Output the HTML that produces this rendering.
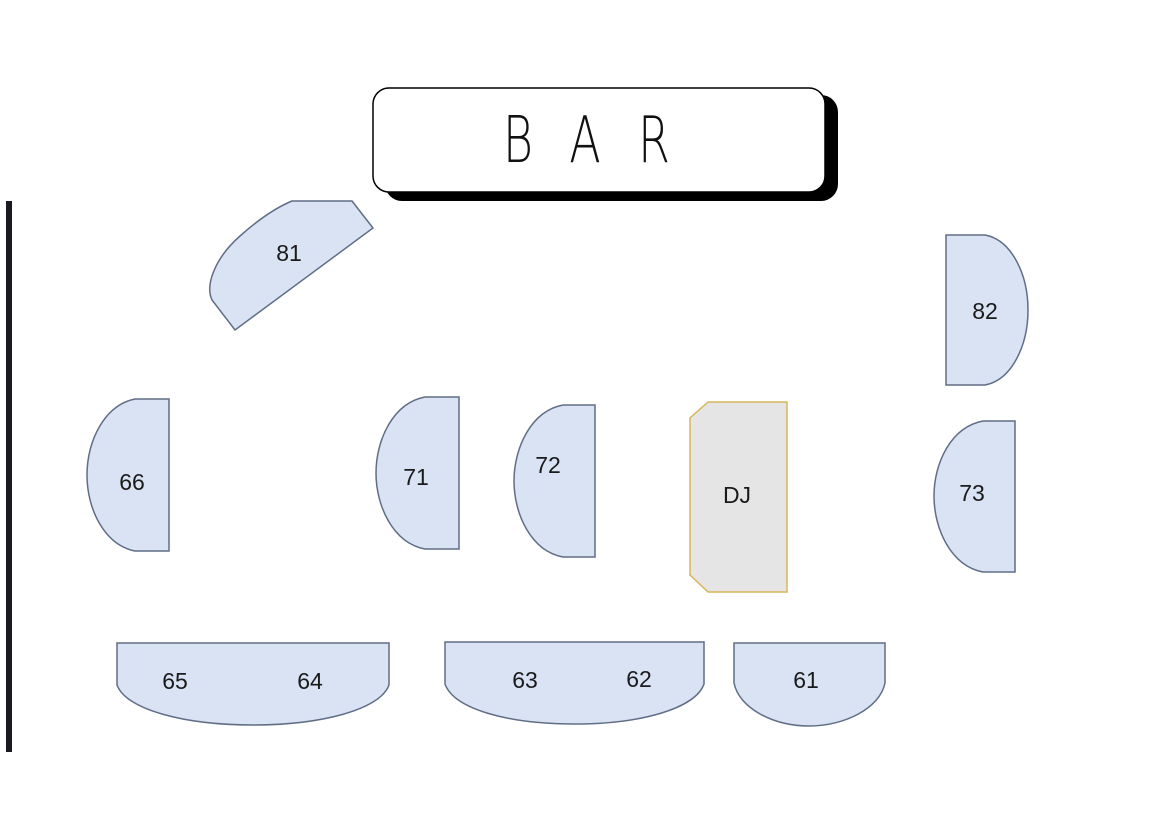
<!DOCTYPE html>
<html><head><meta charset="utf-8"><style>
html,body{margin:0;padding:0;background:#fff;}
svg{display:block;}
</style></head><body>
<svg width="1170" height="836" viewBox="0 0 1170 836" xmlns="http://www.w3.org/2000/svg">
<rect width="1170" height="836" fill="#fff"/>
<rect x="6" y="201" width="6" height="551" fill="#1a1a22"/>
<!-- BAR -->
<rect x="385" y="95" width="453" height="106" rx="17" fill="#000"/>
<rect x="373" y="88" width="452" height="104" rx="16" fill="#fff" stroke="#000" stroke-width="1.5"/>
<g font-family="'DejaVu Sans ExtraLight','DejaVu Sans','Liberation Sans',sans-serif" font-size="64" fill="#111" font-weight="200">
<text x="518" y="162" text-anchor="middle" transform="translate(518 0) scale(0.72 1) translate(-518 0)">B</text>
<text x="585" y="162" text-anchor="middle" transform="translate(585 0) scale(0.72 1) translate(-585 0)">A</text>
<text x="654" y="162" text-anchor="middle" transform="translate(654 0) scale(0.72 1) translate(-654 0)">R</text>
</g>
<g fill="#dae3f3" stroke="#5f6e86" stroke-width="1.5">
<path d="M352,201 L373,228 L235,330 L212,300 C205,285 215,258 240,236 C258,220 275,208 292,201 Z"/>
<path d="M946,235 H985 C1012,240 1028,275 1028,310 C1028,345 1012,380 985,385 H946 Z"/>
<path d="M169,399 H135 C105,405 87,440 87,475 C87,510 105,545 135,551 H169 Z"/>
<path d="M459,397 H425 C393,403 376,440 376,473 C376,506 393,543 425,549 H459 Z"/>
<path d="M595,405 H563 C531,411 514,448 514,481 C514,514 531,551 563,557 H595 Z"/>
<path d="M1015,421 H983 C951,427 934,463 934,496 C934,529 951,566 983,572 H1015 Z"/>
<path d="M117,643 H389 V685 C380,710 320,725 253,725 C186,725 126,710 117,685 Z"/>
<path d="M445,642 H704 V684 C695,709 640,724 574,724 C508,724 454,709 445,684 Z"/>
<path d="M734,643 H885 V683 C880,708 845,726 809,726 C773,726 739,708 734,683 Z"/>
</g>
<path d="M708,402 H787 V592 H708 L690,575 V418 Z" fill="#e6e5e6" stroke="#d6b758" stroke-width="1.5"/>
<g font-family="'Liberation Sans',sans-serif" font-size="23" fill="#1a1a1a" text-anchor="middle">
<text x="289" y="261">81</text>
<text x="985" y="319">82</text>
<text x="132" y="490">66</text>
<text x="416" y="485">71</text>
<text x="548" y="473">72</text>
<text x="972" y="501">73</text>
<text x="737" y="503">DJ</text>
<text x="175" y="689">65</text>
<text x="310" y="689">64</text>
<text x="525" y="688">63</text>
<text x="639" y="687">62</text>
<text x="806" y="688">61</text>
</g>
</svg>
</body></html>
